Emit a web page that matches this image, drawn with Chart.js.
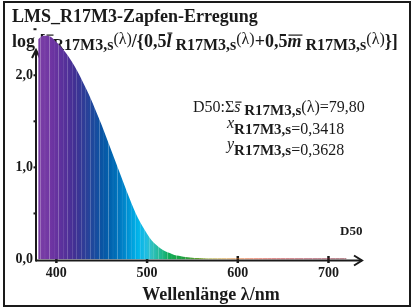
<!DOCTYPE html>
<html>
<head>
<meta charset="utf-8">
<script src="https://cdn.jsdelivr.net/npm/chart.js@4/dist/chart.umd.min.js"></script>
<style>
  html, body { margin: 0; padding: 0; background: #fff; }
  #wrap { width: 413px; height: 308px; position: relative; }
</style>
</head>
<body>
<div id="wrap"><canvas id="chart" width="413" height="308"></canvas></div>
<script>
// wavelength samples (nm) and the plotted log ratio
const wavelengths = [380, 385, 390, 395, 400, 405, 410, 415, 420, 425, 430, 435, 440, 445, 450, 455,
    460, 465, 470, 475, 480, 485, 490, 495, 500, 505, 510, 515, 520, 525, 530, 535, 540, 545, 550,
    555, 560, 565, 570, 575, 580, 585, 590, 595, 600, 605, 610, 615, 620, 625, 630, 635, 640, 645,
    650, 655, 660, 665, 670, 675, 680, 685, 690, 695, 700, 705, 710, 715, 720];
const logRatio = [2.39, 2.43, 2.43, 2.41, 2.36, 2.31, 2.25, 2.18, 2.10, 2.01, 1.91, 1.81, 1.70, 1.58, 1.46, 1.33,
    1.20, 1.07, 0.94, 0.81, 0.68, 0.56, 0.45, 0.36, 0.28, 0.21, 0.16, 0.12, 0.09, 0.07, 0.05, 0.04, 0.03, 0.024, 0.019,
    0.016, 0.014, 0.012, 0.011, 0.010, 0.010, 0.010, 0.010, 0.010, 0.010, 0.010, 0.010, 0.012, 0.012, 0.010, 0.010, 0.010, 0.010, 0.010,
    0.010, 0.010, 0.010, 0.010, 0.010, 0.010, 0.010, 0.010, 0.010, 0.010, 0.010, 0.010, 0.010, 0.010, 0.010];
const xTicks = [400, 500, 600, 700];
const yTicks = [0, 0.5, 1, 1.5, 2, 2.5];

// spectral colour ramp
const colorStops = [
    [380, [123, 63, 166]], [395, [110, 52, 162]], [410, [85, 48, 154]], [420, [66, 48, 147]],
    [430, [47, 60, 151]], [440, [31, 72, 156]], [450, [10, 84, 163]], [460, [0, 99, 174]],
    [470, [0, 120, 192]], [480, [0, 149, 214]], [490, [0, 180, 234]], [500, [34, 189, 224]],
    [505, [48, 192, 192]], [515, [32, 184, 144]], [525, [16, 170, 85]], [540, [32, 160, 64]],
    [555, [96, 160, 48]], [570, [160, 160, 32]], [585, [208, 144, 32]], [600, [224, 112, 32]],
    [620, [224, 64, 32]], [640, [192, 32, 32]], [680, [144, 24, 48]], [720, [112, 16, 32]]
];
function spectralRgb(nm) {
    for (let i = 1; i < colorStops.length; i++) {
        const [w1, c1] = colorStops[i];
        const [w0, c0] = colorStops[i - 1];
        if (nm <= w1) {
            const t = Math.max(0, (nm - w0) / (w1 - w0));
            return c0.map((v, k) => Math.round(v + (c1[k] - v) * t));
        }
    }
    return colorStops[colorStops.length - 1][1];
}
const rgb = (c, lift = 0) => {
    const m = c.map(v => Math.round(v + (255 - v) * lift));
    return `rgb(${m[0]},${m[1]},${m[2]})`;
};

// horizontal spectrum gradient with faint lighter seams every 5 nm
let cachedGrad = null, cachedKey = '';
function spectrumFill(context) {
    const chart = context.chart;
    const area = chart.chartArea;
    if (!area) return rgb(spectralRgb(450));
    const xs = chart.scales.x;
    const key = area.left + ':' + area.right;
    if (cachedGrad && cachedKey === key) return cachedGrad;
    const first = wavelengths[0], last = wavelengths[wavelengths.length - 1];
    const x0 = xs.getPixelForValue(first), x1 = xs.getPixelForValue(last);
    const g = chart.ctx.createLinearGradient(x0, 0, x1, 0);
    const pos = nm => Math.min(1, Math.max(0, (nm - first) / (last - first)));
    const seam = 0.55 * (last - first) / (x1 - x0); // ~0.55 px in nm
    g.addColorStop(0, rgb(spectralRgb(first)));
    for (let i = 0; i < wavelengths.length - 1; i++) {
        const b = wavelengths[i] + 2.5;
        g.addColorStop(pos(wavelengths[i]), rgb(spectralRgb(wavelengths[i])));
        g.addColorStop(pos(b - seam), rgb(spectralRgb(b)));
        g.addColorStop(pos(b), rgb(spectralRgb(b), 0.3));
        g.addColorStop(pos(b + seam), rgb(spectralRgb(b)));
    }
    g.addColorStop(1, rgb(spectralRgb(last)));
    cachedGrad = g; cachedKey = key;
    return g;
}

const SERIF = '"Liberation Serif", "DejaVu Serif", serif';

// draws a run of text pieces left to right
function drawRuns(ctx, x, y, runs) {
    runs.forEach(r => {
        ctx.font = r.font;
        const w = ctx.measureText(r.t).width;
        ctx.fillText(r.t, x, y + (r.dy || 0));
        if (r.bar) {
            ctx.fillRect(x + 1, y + (r.dy || 0) - r.bar, w, 1.2);
        }
        x += w;
    });
    return x;
}

const backgroundPlugin = {
    id: 'backdrop',
    beforeDraw(chart) {
        const ctx = chart.ctx;
        ctx.save();
        ctx.fillStyle = '#fff';
        ctx.fillRect(0, 0, chart.width, chart.height);
        ctx.restore();
    },
    beforeDatasetsDraw(chart) {
        const ctx = chart.ctx;
        const xs = chart.scales.x, ys = chart.scales.y;
        const y0 = ys.getPixelForValue(0);
        ctx.save();
        ctx.fillStyle = '#1a1a1a';
        ctx.strokeStyle = '#1a1a1a';
        ctx.textBaseline = 'alphabetic';
        // title
        drawRuns(ctx, 12, 21.5, [{ t: 'LMS_R17M3-Zapfen-Erregung', font: `bold 18px ${SERIF}` }]);
        const bold = `bold 18px ${SERIF}`, sub = `bold 16px ${SERIF}`, lam = `16px ${SERIF}`, it = `italic bold 18px ${SERIF}`;
        drawRuns(ctx, 12, 46.5, [
            { t: 'log [', font: bold }, { t: 's', font: it, bar: 12 },
            { t: 'R17M3,s', font: sub, dy: 3 }, { t: '(λ)', font: lam, dy: -3 },
            { t: '/{0,5', font: bold }, { t: 'l', font: it, bar: 14 },
            { t: ' R17M3,s', font: sub, dy: 3 }, { t: '(λ)', font: lam, dy: -3 },
            { t: '+0,5', font: bold }, { t: 'm', font: it, bar: 12 },
            { t: ' R17M3,s', font: sub, dy: 3 }, { t: '(λ)', font: lam, dy: -3 },
            { t: '}]', font: bold }
        ]);
        // y axis with arrow (sits under the fill)
        ctx.lineWidth = 2;
        ctx.beginPath();
        ctx.moveTo(36, y0 + 2);
        ctx.lineTo(36, 50);
        ctx.stroke();
        ctx.beginPath();
        ctx.moveTo(32, 58); ctx.lineTo(36, 50); ctx.lineTo(40, 58);
        ctx.stroke();
        yTicks.forEach(v => {
            if (v === 0) return;
            const py = ys.getPixelForValue(v);
            ctx.fillRect(33.5, py - 1, 3, 2);
        });
        // x axis with arrow
        ctx.beginPath();
        ctx.moveTo(36, y0 + 1);
        ctx.lineTo(362, y0 + 1);
        ctx.stroke();
        ctx.beginPath();
        ctx.moveTo(354, y0 - 4); ctx.lineTo(362, y0 + 1); ctx.lineTo(354, y0 + 6);
        ctx.stroke();
        xTicks.forEach(v => {
            const px = xs.getPixelForValue(v);
            ctx.fillRect(px - 1.2, y0 - 3.5, 2.5, 7);
        });
        ctx.restore();
    },
    afterDraw(chart) {
        const ctx = chart.ctx;
        ctx.save();
        ctx.fillStyle = '#1a1a1a';
        ctx.textBaseline = 'alphabetic';
        const reg = `16px ${SERIF}`, sub = `bold 15px ${SERIF}`, itl = `italic 16px ${SERIF}`;
        drawRuns(ctx, 193, 111.5, [
            { t: 'D50:Σ', font: reg }, { t: 's', font: itl, bar: 10 },
            { t: ' R17M3,s', font: sub, dy: 3 }, { t: '(λ)=79,80', font: reg }
        ]);
        drawRuns(ctx, 227, 134, [
            { t: 'x', font: itl, dy: -6 }, { t: 'R17M3,s', font: sub }, { t: '=0,3418', font: reg }
        ]);
        drawRuns(ctx, 227, 154.5, [
            { t: 'y', font: itl, dy: -6 }, { t: 'R17M3,s', font: sub }, { t: '=0,3628', font: reg }
        ]);
        ctx.font = `bold 13px ${SERIF}`;
        ctx.fillText('D50', 340, 235);
        ctx.font = `bold 18px ${SERIF}`;
        ctx.textAlign = 'center';
        ctx.fillText('Wellenlänge λ/nm', 211, 299.5);
        // outer frame
        ctx.strokeStyle = '#1a1a1a';
        ctx.lineWidth = 2;
        ctx.strokeRect(4, 2, 406, 304);
        ctx.restore();
    }
};

const ctx = document.getElementById('chart').getContext('2d');
new Chart(ctx, {
    type: 'line',
    data: {
        datasets: [{
            data: wavelengths.map((w, i) => ({ x: w, y: logRatio[i] })),
            backgroundColor: spectrumFill,
            borderWidth: 0,
            pointRadius: 0,
            fill: 'origin',
            tension: 0.4,
            cubicInterpolationMode: 'monotone'
        }]
    },
    options: {
        responsive: false,
        animation: false,
        events: [],
        layout: { padding: { left: 0, right: 51, top: 20, bottom: 0 } },
        plugins: { legend: { display: false }, tooltip: { enabled: false } },
        scales: {
            x: {
                type: 'linear',
                min: 378.7,
                max: 737,
                offset: false,
                grid: { display: false, drawTicks: false },
                border: { display: false },
                afterBuildTicks: s => { s.ticks = xTicks.map(v => ({ value: v })); },
                afterFit: s => { s.height = 48.5; },
                ticks: {
                    padding: 5,
                    color: '#1a1a1a',
                    font: { family: SERIF, size: 14, weight: 'bold' },
                    callback: v => String(v)
                }
            },
            y: {
                min: 0,
                max: 2.6,
                grid: { display: false, drawTicks: false },
                border: { display: false },
                afterBuildTicks: s => { s.ticks = yTicks.map(v => ({ value: v })); },
                afterFit: s => { s.width = 37; },
                ticks: {
                    padding: 4,
                    color: '#1a1a1a',
                    font: { family: SERIF, size: 14, weight: 'bold' },
                    callback: v => Number.isInteger(v) ? v.toFixed(1).replace('.', ',') : ''
                }
            }
        }
    },
    plugins: [backgroundPlugin]
});
</script>
</body>
</html>
